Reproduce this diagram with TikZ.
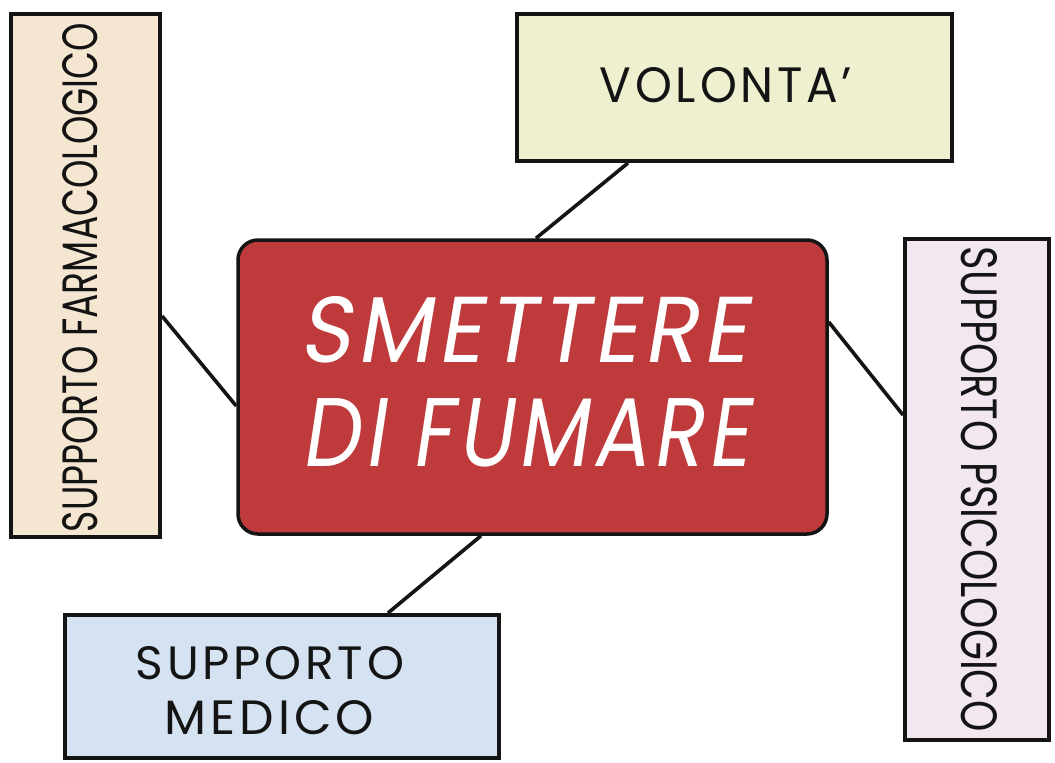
\documentclass[tikz,border=0pt]{standalone}
\usepackage{fontspec}
\setmainfont{Poppins}
\newfontfamily\slfont[FakeSlant=0.18,LetterSpace=6]{Poppins}
\newfontfamily\spfont[LetterSpace=8]{Poppins}
\usepackage{graphicx}
\definecolor{farmc}{HTML}{F5E6D1}
\definecolor{volc}{HTML}{EEF0CF}
\definecolor{smokec}{HTML}{BF3B3B}
\definecolor{psicoc}{HTML}{F2E6F0}
\definecolor{medc}{HTML}{D5E2F2}
\definecolor{inkc}{HTML}{141414}
\begin{document}
\begin{tikzpicture}[x=1pt,y=-1pt,
  box/.style={draw=inkc,line width=4pt,inner sep=0pt},
  conn/.style={draw=inkc,line width=3.6pt},
  txt/.style={inner sep=0pt,text=inkc},
  wtxt/.style={inner sep=0pt,text=white}]
\useasboundingbox (0,0) rectangle (1055,763);
\fill[white] (0,0) rectangle (1055,763);
% boxes
\node[box,fill=farmc,minimum width=149pt,minimum height=523pt] (farm) at (85.5,275.5) {};
\node[box,fill=volc,minimum width=435pt,minimum height=147pt] (vol) at (734.5,87.5) {};
\node[box,fill=psicoc,minimum width=144pt,minimum height=501pt] (psico) at (977,489.5) {};
\node[box,fill=medc,minimum width=434pt,minimum height=143pt] (med) at (282,686.5) {};
\node[box,line width=3.5pt,fill=smokec,rounded corners=20pt,minimum width=589pt,minimum height=294pt] (smoke) at (532.5,387) {};
% connectors
\draw[conn] ([yshift=-40.5pt]farm.east) -- ([yshift=-19pt]smoke.west);
\draw[conn] ([xshift=-106.5pt]vol.south) -- ([xshift=3.5pt]smoke.north);
\draw[conn] ([yshift=65pt]smoke.east) -- ([yshift=74.5pt]psico.west);
\draw[conn] ([xshift=-51.5pt]smoke.south) -- ([xshift=106pt]med.north);
% texts
\node[txt,rotate=90] (farmt) at (80.5,277.5) {\resizebox{509pt}{35pt}{SUPPORTO FARMACOLOGICO}};
\node[txt,rotate=-90] (psicot) at (979,489.5) {\resizebox{485pt}{36pt}{SUPPORTO PSICOLOGICO}};
\node[txt] (volt) at (726,85.5) {\resizebox{252pt}{35pt}{\spfont VOLONTA’}};
\node[txt] (medt1) at (270,663) {\resizebox{268pt}{33pt}{\spfont SUPPORTO}};
\node[txt] (medt2) at (269.5,717.5) {\resizebox{209pt}{34pt}{\spfont MEDICO}};
\node[wtxt] (smt1) at (523.5,330) {\resizebox{447pt}{66pt}{\slfont SMETTERE}};
\node[wtxt] (smt2) at (525.5,433) {\resizebox{447pt}{68pt}{\slfont DI FUMARE}};
\end{tikzpicture}
\end{document}
